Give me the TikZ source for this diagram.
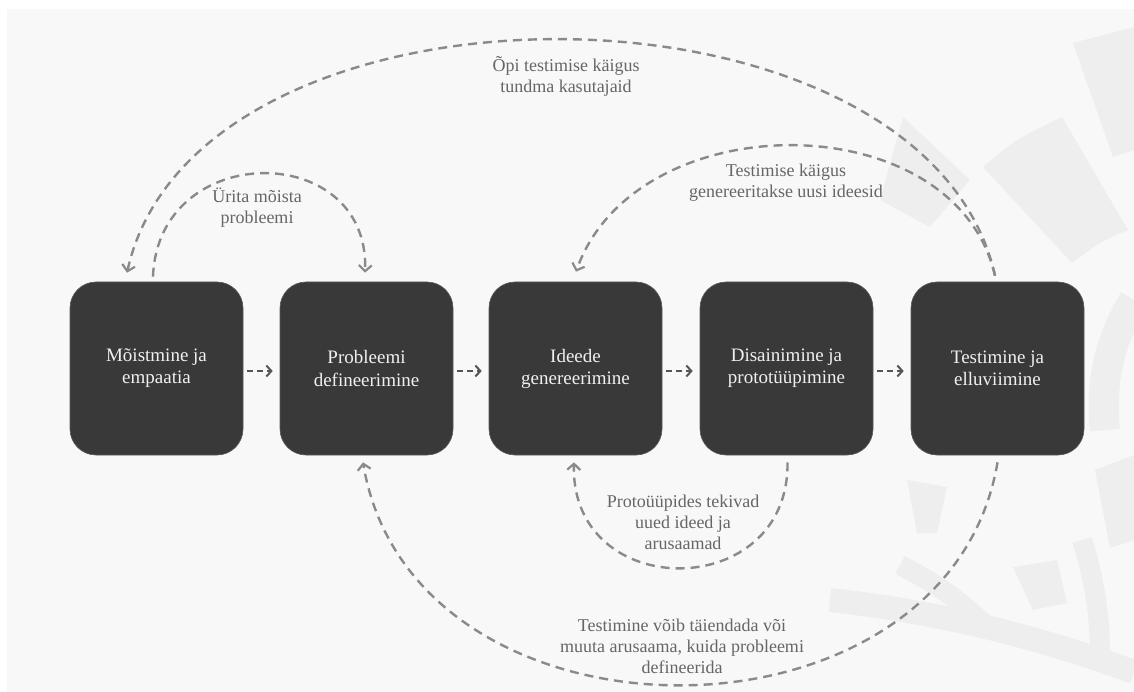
\documentclass[tikz,border=0pt]{standalone}
\usepackage{fontspec}
\setmainfont{Liberation Serif}
\usetikzlibrary{arrows.meta,calc}
\definecolor{bgc}{HTML}{F8F8F8}
\definecolor{wmc}{HTML}{EEEEEE}
\definecolor{boxc}{HTML}{393939}
\definecolor{boxline}{HTML}{5A5A5A}
\definecolor{loopc}{HTML}{8A8A8A}
\definecolor{flowc}{HTML}{555555}
\definecolor{labc}{HTML}{666666}
\tikzset{
  stage/.style={draw=boxline, line width=0.6pt, fill=boxc, rounded corners=26pt,
    minimum width=173pt, minimum height=173pt, inner sep=0pt, align=center,
    text=white!94!black, font=\fontsize{19}{22}\selectfont},
  looplabel/.style={align=center, text=labc, inner sep=0pt, font=\fontsize{18}{21}\selectfont},
  loopline/.style={draw=loopc, line width=2.4pt, dash pattern=on 9pt off 6pt,
    -{Straight Barb[length=6pt,width=13pt,line width=2.2pt]}},
  flowline/.style={draw=flowc, line width=2.2pt, dash pattern=on 6pt off 4pt,
    shorten <=4pt, shorten >=7pt,
    -{Straight Barb[length=5pt,width=11pt,line width=2pt]}},
  wm/.style={fill=wmc, draw=none},
  wmband/.style={draw=wmc, line width=24pt, line cap=butt}
}
\begin{document}
\begin{tikzpicture}[x=1pt,y=-1pt]
\useasboundingbox (0,0) rectangle (1134,692);
\fill[white] (0,0) rectangle (1134,692);
\fill[bgc] (7,9) rectangle (1134,692);
% faint watermark
\begin{scope}
\clip (7,9) rectangle (1134,692);
\fill[wm] (1073,43) -- (1134,27) -- (1134,150) -- (1113,157) -- cycle;
\fill[wm] (983,167) .. controls (1015,140) .. (1062,117) -- (1128,230) .. controls (1100,242) .. (1072,263) -- cycle;
\fill[wm] (903,117) -- (970,180) -- (930,227) -- (880,200) -- cycle;
\fill[wm] (907,480) -- (947,487) -- (937,533) -- (917,533) -- cycle;
\fill[wm] (1013,567) -- (1057,560) -- (1067,603) -- (1033,610) -- cycle;
\fill[wm] (1095,470) -- (1134,455) -- (1134,540) -- (1110,548) -- cycle;
\draw[wmband] (830,600) .. controls (920,610) and (1020,630) .. (1134,672);
\draw[wmband, line width=20pt] (900,565) .. controls (930,580) and (960,600) .. (985,625);
\draw[wmband, line width=20pt] (1082,540) .. controls (1095,580) and (1100,620) .. (1100,652);
\draw[wmband, line width=30pt] (1134,300) .. controls (1110,340) and (1100,380) .. (1105,430);
\end{scope}
% stages
\node[stage] (s1) at (156.5,368.5) {Mõistmine ja\\empaatia};
\node[stage] (s2) at (366.5,368.5) {Probleemi\\defineerimine};
\node[stage] (s3) at (575.5,368.5) {Ideede\\genereerimine};
\node[stage] (s4) at (786.5,368.5) {Disainimine ja\\prototüüpimine};
\node[stage] (s5) at (997.5,368.5) {Testimine ja\\elluviimine};
% forward flow
\draw[flowline] ([yshift=-2.5pt]s1.east) -- ([yshift=-2.5pt]s2.west);
\draw[flowline] ([yshift=-2.5pt]s2.east) -- ([yshift=-2.5pt]s3.west);
\draw[flowline] ([yshift=-2.5pt]s3.east) -- ([yshift=-2.5pt]s4.west);
\draw[flowline] ([yshift=-2.5pt]s4.east) -- ([yshift=-2.5pt]s5.west);
% feedback loops
\draw[loopline] ($(s5.north)+(-2.5,-6)$) .. controls +(-70,-313) and +(70,-313) .. ($(s1.north)+(-29.5,-9)$);
\draw[loopline] ($(s1.north)+(-3.5,-5)$) .. controls +(5,-137) and +(5,-133) .. ($(s2.north)+(-1.5,-9)$);
\draw[loopline] ($(s5.north)+(-2.5,-6)$) .. controls +(-40,-173) and +(60,-169) .. ($(s3.north)+(0.5,-10)$);
\draw[loopline] ($(s4.south)+(1,7)$) .. controls +(2,141) and +(-4,141) .. ($(s3.south)+(-1.5,7)$);
\draw[loopline] ($(s5.south)+(0,7)$) .. controls +(-50,297) and +(50,297) .. ($(s2.south)+(-3.5,7)$);
% loop labels
\node[looplabel] (l1) at (566,76) {Õpi testimise käigus\\tundma kasutajaid};
\node[looplabel] (l2) at (257,208) {Ürita mõista\\probleemi};
\node[looplabel] (l3) at (786,183) {Testimise käigus\\genereeritakse uusi ideesid};
\node[looplabel] (l4) at (683,522) {Protoüüpides tekivad\\uued ideed ja\\arusaamad};
\node[looplabel] (l5) at (682,646) {Testimine võib täiendada või\\muuta arusaama, kuida probleemi\\defineerida};
\end{tikzpicture}
\end{document}
